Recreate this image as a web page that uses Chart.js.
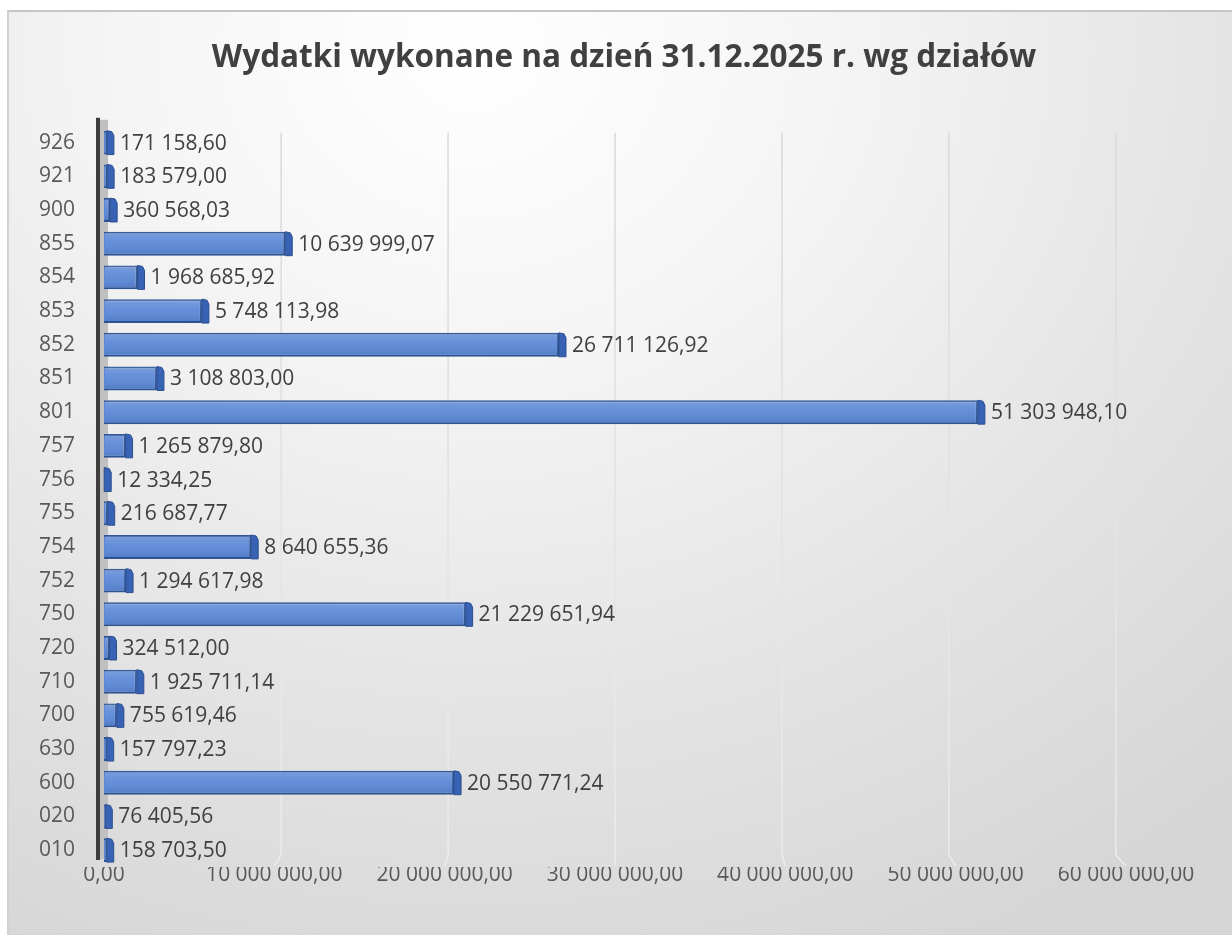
<!DOCTYPE html>
<html><head><meta charset="utf-8">
<script src="https://cdn.jsdelivr.net/npm/chart.js@4"></script>
<style>
html,body{margin:0;padding:0;background:#fff;width:1232px;height:935px;overflow:hidden}
#box{position:absolute;left:7px;top:10px;width:1225px;height:925px;border-top:2px solid #c6c6c6;border-left:2px solid #d2d2d2;box-sizing:border-box;
background:radial-gradient(ellipse 95% 110% at 38% 4%, #ffffff 0%, #f5f5f5 30%, #e4e4e4 65%, #d5d5d5 100%);}
#c{position:absolute;left:0;top:0;width:1232px;height:935px}
</style></head><body>
<div id="box"></div>
<canvas id="c" width="1232" height="935"></canvas>
<script>
const categories = ['926','921','900','855','854','853','852','851','801','757','756','755','754','752','750','720','710','700','630','600','020','010'];
const values = [171158.60,183579.00,360568.03,10639999.07,1968685.92,5748113.98,26711126.92,3108803.00,51303948.10,1265879.80,12334.25,216687.77,8640655.36,1294617.98,21229651.94,324512.00,1925711.14,755619.46,157797.23,20550771.24,76405.56,158703.50];
const xTickValues = [0,10000000,20000000,30000000,40000000,50000000,60000000];
const titleText = 'Wydatki wykonane na dzień 31.12.2025 r. wg działów';

function fmt(v){
  const parts = Number(v).toFixed(2).split('.');
  return parts[0].replace(/\B(?=(\d{3})+(?!\d))/g,' ') + ',' + parts[1];
}
const FONT = '"Open Sans", "DejaVu Sans", sans-serif';

const decor = {
  id:'decor',
  afterLayout(chart){
    if (chart.titleBlock) {
      chart.titleBlock.left = 16;
      chart.titleBlock.right = 1232;
      chart.titleBlock.width = 1216;
    }
  },
  beforeDatasetsDraw(chart){
    const ctx = chart.ctx, a = chart.chartArea, xs = chart.scales.x;
    ctx.save();
    // gridlines with a slight 3D perspective (back wall + floor)
    const mid = xs.getPixelForValue(30000000);
    xTickValues.forEach((v, i) => {
      if (i === 0) return;
      const px = xs.getPixelForValue(v);
      const back = px - (px - mid) * 0.02;
      const g = ctx.createLinearGradient(0, a.top, 0, a.bottom);
      g.addColorStop(0, '#d8d8d8');
      g.addColorStop(1, '#ececec');
      ctx.strokeStyle = g;
      ctx.lineWidth = 1.5;
      ctx.beginPath();
      ctx.moveTo(back, a.top + 7);
      ctx.lineTo(back, a.bottom - 12);
      ctx.lineTo(px, a.bottom - 1);
      ctx.stroke();
    });
    ctx.fillStyle = '#c0c0c0';
    ctx.fillRect(a.left-4, a.top-6, 8, a.bottom-a.top-2);
    ctx.fillStyle = '#3d3d3d';
    ctx.fillRect(a.left-8, a.top-8, 4, a.bottom-a.top+1);
    ctx.restore();
  },
  afterDatasetsDraw(chart){
    const ctx = chart.ctx;
    const meta = chart.getDatasetMeta(0);
    ctx.save();
    meta.data.forEach((bar,i)=>{
      const p = bar.getProps(['x','y','base','height'], true);
      const top = p.y - p.height/2, bot = p.y + p.height/2;
      const w = p.x - p.base;
      if (w > 3) {
        const g = ctx.createLinearGradient(0, top, 0, bot);
        g.addColorStop(0, 'rgba(255,255,255,0.20)');
        g.addColorStop(0.45, 'rgba(255,255,255,0.06)');
        g.addColorStop(1, 'rgba(0,20,70,0.14)');
        ctx.fillStyle = g;
        ctx.fillRect(p.base+1, top+1, w-2, p.height-2);
      }
      const d = 7, s = 5;
      ctx.beginPath();
      ctx.moveTo(p.x, top);
      ctx.lineTo(p.x + d - 2, top + 1);
      ctx.lineTo(p.x + d, top + s);
      ctx.lineTo(p.x + d, bot);
      ctx.lineTo(p.x, bot);
      ctx.closePath();
      ctx.fillStyle = '#3862b3';
      ctx.fill();
      ctx.strokeStyle = '#2c4f8f';
      ctx.lineWidth = 1;
      ctx.stroke();
      ctx.fillStyle = '#404040';
      ctx.font = '21px ' + FONT;
      ctx.textAlign = 'left';
      ctx.textBaseline = 'middle';
      ctx.fillText(fmt(values[i]), p.x + d + 6, p.y + 1);
    });
    ctx.restore();
  }
};

new Chart(document.getElementById('c'), {
  type:'bar',
  data:{
    labels: categories,
    datasets:[{
      data: values,
      backgroundColor:'#5a87d6',
      borderColor:'#2f5597',
      borderWidth:2,
      barPercentage:0.71,
      categoryPercentage:1
    }]
  },
  options:{
    indexAxis:'y',
    responsive:false,
    animation:false,
    layout:{padding:{left:0,right:106,top:0,bottom:28}},
    plugins:{
      legend:{display:false},
      tooltip:{enabled:false},
      title:{display:true,text:titleText,color:'#404040',
        font:{family:FONT,size:31.5,weight:'bold'},lineHeight:1.2,padding:{top:39,bottom:49}}
    },
    scales:{
      x:{
        min:0,max:60000000,
        afterBuildTicks(scale){ scale.ticks = xTickValues.map(v=>({value:v})); },
        afterFit(scale){ scale.height = 40; },
        ticks:{color:'#595959',font:{family:FONT,size:21},padding:-5,maxRotation:0,autoSkip:false,
          callback:(v)=>fmt(v)},
        grid:{display:false,drawTicks:false},
        border:{display:false}
      },
      y:{
        afterFit(scale){ scale.width = 104; },
        ticks:{color:'#595959',font:{family:FONT,size:21},padding:29},
        grid:{display:false,drawTicks:false},
        border:{display:false}
      }
    }
  },
  plugins:[decor]
});
</script>
</body></html>
